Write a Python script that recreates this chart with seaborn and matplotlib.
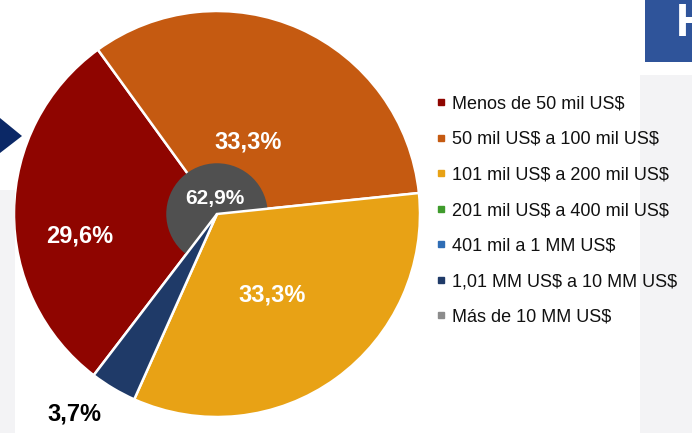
import matplotlib
matplotlib.use("Agg")
import matplotlib.pyplot as plt
import seaborn as sns
from matplotlib.lines import Line2D
from matplotlib.patches import Circle, Rectangle, Polygon

# data
categories = [
    "Menos de 50 mil US$",
    "50 mil US$ a 100 mil US$",
    "101 mil US$ a 200 mil US$",
    "201 mil US$ a 400 mil US$",
    "401 mil a 1 MM US$",
    "1,01 MM US$ a 10 MM US$",
    "Más de 10 MM US$",
]
shares = [29.6, 33.3, 33.3, 0.0, 0.0, 3.7, 0.0]
slice_labels = ["29,6%", "33,3%", "33,3%", "", "", "3,7%", ""]
center_label = "62,9%"
colors = ["#8f0500", "#c55a11", "#e8a215", "#3f9b2c", "#2f6db5", "#1f3a68", "#8c8c8c"]

sns.set_theme(style="white")
plt.rcParams["font.family"] = ["Liberation Sans", "DejaVu Sans"]
plt.rcParams["text.parse_math"] = False  # keep the $ signs literal

fig = plt.figure(figsize=(6.92, 4.33), dpi=100)
fig.patch.set_facecolor("white")

# light background shapes
fig.patches.append(Rectangle((640 / 692, 0), 52 / 692, 1 - 75 / 433, transform=fig.transFigure,
                             facecolor="#f3f3f5", edgecolor="none", zorder=0))
fig.patches.append(Rectangle((0, 0), 15 / 692, 1 - 190 / 433, transform=fig.transFigure,
                             facecolor="#f3f3f5", edgecolor="none", zorder=0))

ax = fig.add_axes([14 / 692, 16 / 433, 406 / 692, 406 / 433])
ax.set_facecolor("none")

vals = [v for v in shares if v > 0]
cols = [c for v, c in zip(shares, colors) if v > 0]
labs = [l for v, l in zip(shares, slice_labels) if v > 0]

wedges, _ = ax.pie(vals, colors=cols, startangle=232.6, counterclock=False, radius=1,
                   wedgeprops=dict(edgecolor="white", linewidth=1.8))

# grey hub, covered by the yellow and navy slices
ax.add_patch(Circle((0, 0), 0.25, facecolor="#505050", edgecolor="none", zorder=2))
wedges[2].set_zorder(3)
wedges[3].set_zorder(3)

label_pos = [(-0.675, -0.11), (0.155, 0.355), (0.27, -0.40), (-0.70, -0.985)]
for (x, y), txt in zip(label_pos, labs):
    outside = txt == "3,7%"
    ax.text(x, y, txt, ha="center", va="center", fontsize=17, fontweight="bold",
            color="black" if outside else "white", zorder=5, clip_on=False)
ax.text(-0.01, 0.075, center_label, ha="center", va="center", fontsize=15,
        fontweight="bold", color="white", zorder=5)
ax.set_xlim(-1, 1)
ax.set_ylim(-1, 1)
ax.axis("off")

handles = [Line2D([0], [0], marker="s", linestyle="none", markersize=5,
                  markerfacecolor=c, markeredgecolor=c) for c in colors]
fig.legend(handles, categories, loc="upper left", bbox_to_anchor=(428 / 692, 1 - 88 / 433),
           frameon=False, fontsize=13, labelspacing=1.03, handlelength=0.6,
           handletextpad=0.35, borderaxespad=0, labelcolor="#111111")

# decorations from the slide
fig.patches.append(Rectangle((645 / 692, 1 - 62 / 433), 47 / 692, 62 / 433, transform=fig.transFigure,
                             facecolor="#2f549a", edgecolor="none", zorder=1))
fig.text(676 / 692, 1 - 24 / 433, "H", fontsize=34, fontweight="bold", color="white",
         ha="left", va="center")
fig.patches.append(Polygon([(0, 1 - 118 / 433), (22 / 692, 1 - 136 / 433), (0, 1 - 153 / 433)],
                           closed=True, transform=fig.transFigure, facecolor="#0b2866",
                           edgecolor="none", zorder=1))

fig.savefig("out.png", dpi=100)
